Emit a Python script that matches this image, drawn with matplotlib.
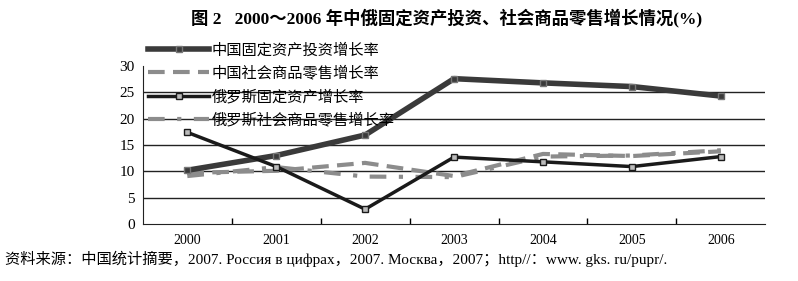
import numpy as np
import matplotlib.pyplot as plt
from matplotlib.ticker import FixedLocator

plt.rcParams['font.family'] = ['Liberation Serif', 'Noto Sans CJK SC']

years = ['2000', '2001', '2002', '2003', '2004', '2005', '2006']
cn_invest = [10.2, 13.0, 16.9, 27.6, 26.8, 26.1, 24.3]
cn_retail = [9.7, 10.1, 11.6, 9.1, 13.3, 12.9, 13.8]
ru_invest = [17.4, 10.9, 2.8, 12.7, 11.8, 10.9, 12.8]
ru_retail = [9.1, 10.8, 9.0, 8.9, 12.8, 13.0, 14.0]

labels = ['中国固定资产投资增长率', '中国社会商品零售增长率',
          '俄罗斯固定资产增长率', '俄罗斯社会商品零售增长率']

fig = plt.figure(figsize=(7.98, 2.81), dpi=100)
ax = fig.add_axes([0.179, 0.203, 0.78, 0.562])
x = np.arange(len(years))

l1, = ax.plot(x, cn_invest, color='#3a3a3a', lw=4, marker='s', ms=4,
              mfc='#3a3a3a', mec='#777777', zorder=4)
l2, = ax.plot(x, cn_retail, color='#8c8c8c', lw=3, ls=(0, (4, 2)), zorder=3)
l3, = ax.plot(x, ru_invest, color='#1a1a1a', lw=2.5, marker='s', ms=4.5,
              mfc='#bbbbbb', mec='#1a1a1a', zorder=5)
l4, = ax.plot(x, ru_retail, color='#8c8c8c', lw=3, ls=(0, (4, 3, 1, 3)), zorder=3)

ax.set_xlim(-0.5, len(years) - 0.5)
ax.set_ylim(0, 30)
ax.set_yticks(range(0, 31, 5))
ax.set_xticks(x)
ax.set_xticklabels(years)
ax.xaxis.set_minor_locator(FixedLocator(np.arange(0.5, len(years) - 0.5, 1)))
ax.tick_params(axis='x', which='major', length=0, pad=7, labelsize=10)
ax.tick_params(axis='x', which='minor', direction='in', length=4, width=1)
ax.tick_params(axis='y', length=0, pad=6, labelsize=11)
for yv in range(5, 30, 5):
    ax.axhline(yv, color='#222222', lw=1, zorder=1)
for s in ['top', 'right']:
    ax.spines[s].set_visible(False)
ax.spines['left'].set_color('#222222')
ax.spines['bottom'].set_color('#222222')

fig.legend([l1, l2, l3, l4], labels, loc='upper left',
           bbox_to_anchor=(148 / 798, 1 - 43 / 281), frameon=False,
           fontsize=11, handlelength=4.0, handletextpad=0.15,
           labelspacing=0.55, borderaxespad=0, borderpad=0)

fig.text(0.56, 0.935, '图 2   2000～2006 年中俄固定资产投资、社会商品零售增长情况(%)',
         ha='center', va='center', fontsize=12.5, fontweight='bold')
fig.text(0.006, 0.078,
         '资料来源：中国统计摘要，2007. Россия в цифрах，2007. Москва，2007；http//：www. gks. ru/pupr/.',
         ha='left', va='center', fontsize=11)

fig.savefig('out.png', dpi=100)
